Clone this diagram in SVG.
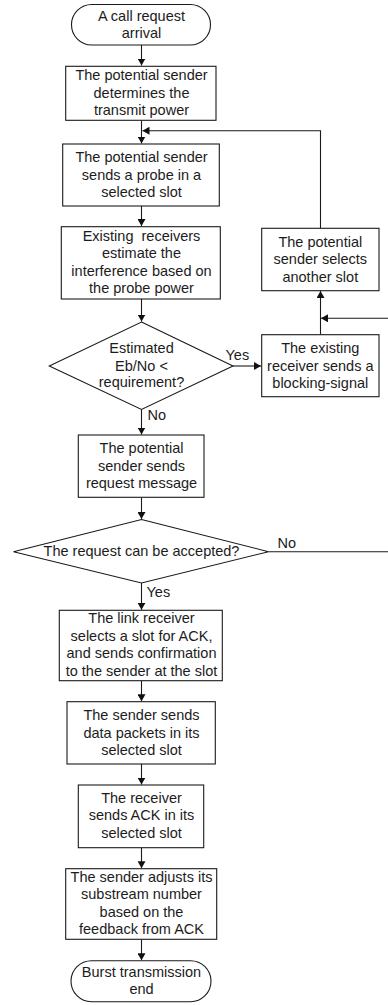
<svg xmlns="http://www.w3.org/2000/svg" width="388" height="1005" viewBox="0 0 388 1005">
  <style>
    .box { fill: #fff; stroke: #1a1a1a; stroke-width: 1.1; }
    .lbl { font-family: "Liberation Sans", Arial, sans-serif; font-size: 14.5px; fill: #1c1c1c; text-anchor: middle; }
    .tag { font-family: "Liberation Sans", Arial, sans-serif; font-size: 14.5px; fill: #1c1c1c; }
    .wire { fill: none; stroke: #1a1a1a; stroke-width: 1.1; }
  </style>
  <defs>
    <marker id="arrow" markerUnits="userSpaceOnUse" markerWidth="8" markerHeight="8" refX="7" refY="4" orient="auto">
      <path d="M0,0 L7,4 L0,8 z" fill="#111"/>
    </marker>
  </defs>
  <rect width="388" height="1005" fill="#fff"/>

  <!-- connectors -->
  <g id="connectors">
    <path class="wire" d="M141.5,45 V65.5" marker-end="url(#arrow)"/>
    <path class="wire" d="M141.5,120.3 V143.5" marker-end="url(#arrow)"/>
    <path class="wire" d="M141.5,206 V226" marker-end="url(#arrow)"/>
    <path class="wire" d="M141.5,299 V321.5" marker-end="url(#arrow)"/>
    <path class="wire" d="M233,366 H261" marker-end="url(#arrow)"/>
    <path class="wire" d="M320.5,334.7 V291" marker-end="url(#arrow)"/>
    <path class="wire" d="M388,318.3 H321" marker-end="url(#arrow)"/>
    <path class="wire" d="M320.5,228.3 V130.7 H142.5" marker-end="url(#arrow)"/>
    <path class="wire" d="M141.5,409.5 V434.5" marker-end="url(#arrow)"/>
    <path class="wire" d="M141.5,497.3 V519" marker-end="url(#arrow)"/>
    <path class="wire" d="M268.5,551.7 H388"/>
    <path class="wire" d="M141.5,583 V609.8" marker-end="url(#arrow)"/>
    <path class="wire" d="M141.5,680.7 V701.3" marker-end="url(#arrow)"/>
    <path class="wire" d="M141.5,764 V784.6" marker-end="url(#arrow)"/>
    <path class="wire" d="M141.5,847.7 V868.2" marker-end="url(#arrow)"/>
    <path class="wire" d="M141.5,939.3 V960.3" marker-end="url(#arrow)"/>
    <text class="tag" x="225.5" y="359.5">Yes</text>
    <text class="tag" x="147.5" y="420">No</text>
    <text class="tag" x="277.5" y="547.7">No</text>
    <text class="tag" x="146.5" y="597.3">Yes</text>
  </g>

  <g id="start">
    <rect class="box" x="71.5" y="4.5" width="139" height="40.5" rx="20.25"/>
    <text class="lbl" x="141.5" y="20.7">A call request</text>
    <text class="lbl" x="141.5" y="37.7">arrival</text>
  </g>

  <g id="determine-power">
    <rect class="box" x="65.7" y="66.3" width="150.3" height="54"/>
    <text class="lbl" x="141.5" y="80">The potential sender</text>
    <text class="lbl" x="141.5" y="97.7">determines the</text>
    <text class="lbl" x="141.5" y="115.4">transmit power</text>
  </g>

  <g id="send-probe">
    <rect class="box" x="62.7" y="144" width="156.6" height="62"/>
    <text class="lbl" x="141.5" y="161.7">The potential sender</text>
    <text class="lbl" x="141.5" y="179.5">sends a probe in a</text>
    <text class="lbl" x="141.5" y="196.8">selected slot</text>
  </g>

  <g id="estimate-interference">
    <rect class="box" x="61.3" y="226.7" width="159" height="72.3"/>
    <text class="lbl" x="141.5" y="240.7" style="white-space:pre">Existing  receivers</text>
    <text class="lbl" x="141.5" y="258.3">estimate the</text>
    <text class="lbl" x="141.5" y="275.7">interference based on</text>
    <text class="lbl" x="141.5" y="293.3">the probe power</text>
  </g>

  <g id="check-ebno">
    <polygon class="box" points="141.5,322 233,366 141.5,409.5 49.3,366"/>
    <text class="lbl" x="141.5" y="352.7">Estimated</text>
    <text class="lbl" x="141.5" y="370.5">Eb/No &lt;</text>
    <text class="lbl" x="141.5" y="387.3">requirement?</text>
  </g>

  <g id="blocking-signal">
    <rect class="box" x="261.7" y="334.7" width="117.3" height="62"/>
    <text class="lbl" x="320.3" y="353.3">The existing</text>
    <text class="lbl" x="320.3" y="370.8">receiver sends a</text>
    <text class="lbl" x="320.3" y="387.5">blocking-signal</text>
  </g>

  <g id="select-another-slot">
    <rect class="box" x="261.7" y="228.3" width="117.3" height="62.4"/>
    <text class="lbl" x="320.3" y="246.7">The potential</text>
    <text class="lbl" x="320.3" y="264">sender selects</text>
    <text class="lbl" x="320.3" y="281.7">another slot</text>
  </g>

  <g id="request-message">
    <rect class="box" x="78.3" y="435" width="125.7" height="62.3"/>
    <text class="lbl" x="141.5" y="452.7">The potential</text>
    <text class="lbl" x="141.5" y="470.5">sender sends</text>
    <text class="lbl" x="141.5" y="488.3">request message</text>
  </g>

  <g id="check-accept">
    <polygon class="box" points="141.5,519.5 268.5,551.7 141.5,583 13.5,551.7"/>
    <text class="lbl" x="141.5" y="556">The request can be accepted?</text>
  </g>

  <g id="ack-slot">
    <rect class="box" x="59.3" y="610.3" width="163" height="70.4"/>
    <text class="lbl" x="141.5" y="622.7">The link receiver</text>
    <text class="lbl" x="141.5" y="640.7">selects a slot for ACK,</text>
    <text class="lbl" x="141.5" y="658.3">and sends confirmation</text>
    <text class="lbl" x="141.5" y="676">to the sender at the slot</text>
  </g>

  <g id="send-data">
    <rect class="box" x="67" y="701.7" width="148.3" height="62.3"/>
    <text class="lbl" x="141.5" y="720">The sender sends</text>
    <text class="lbl" x="141.5" y="737.7">data packets in its</text>
    <text class="lbl" x="141.5" y="755">selected slot</text>
  </g>

  <g id="send-ack">
    <rect class="box" x="78.3" y="785" width="125.4" height="62.7"/>
    <text class="lbl" x="141.5" y="802.7">The receiver</text>
    <text class="lbl" x="141.5" y="820.3">sends ACK in its</text>
    <text class="lbl" x="141.5" y="838">selected slot</text>
  </g>

  <g id="adjust-substreams">
    <rect class="box" x="65.7" y="868.7" width="151" height="70.6"/>
    <text class="lbl" x="141.5" y="881.7">The sender adjusts its</text>
    <text class="lbl" x="141.5" y="899.3">substream number</text>
    <text class="lbl" x="141.5" y="916.8">based on the</text>
    <text class="lbl" x="141.5" y="934.3">feedback from ACK</text>
  </g>

  <g id="end">
    <rect class="box" x="71" y="960.7" width="140" height="41" rx="20.5"/>
    <text class="lbl" x="141.5" y="977.3">Burst transmission</text>
    <text class="lbl" x="141.5" y="994.3">end</text>
  </g>
</svg>
